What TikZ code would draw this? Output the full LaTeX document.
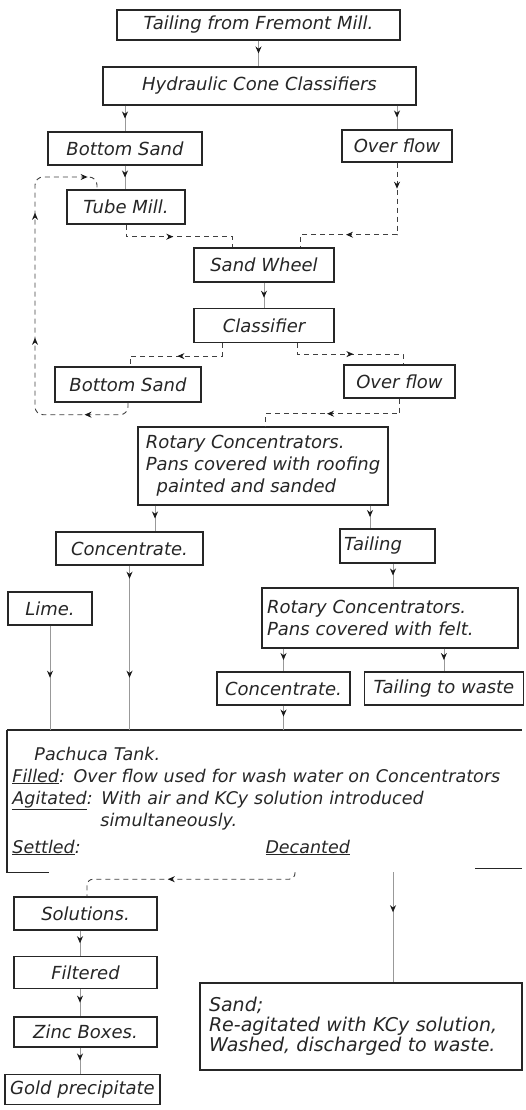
\documentclass[tikz,border=0pt]{standalone}
\usepackage{fontspec}
\setmainfont{DejaVu Sans}
\usetikzlibrary{arrows.meta, positioning, calc, decorations.markings}

\begin{document}
\begin{tikzpicture}[
  x=1pt, y=-1pt,
  >={Stealth[length=7pt, width=6pt]},
  box/.style={rectangle, draw=black!85, line width=1.4pt, fill=white, align=center, font=\fontsize{18}{22}\selectfont\itshape, text=black!85, inner sep=3pt},
  note/.style={rectangle, align=left, font=\fontsize{17.5}{22}\selectfont\itshape, text=black!85, inner sep=4pt},
  pachline/.style={draw=black!85, line width=1.4pt},
  link/.style={draw=black!40, line width=0.8pt},
  dlink/.style={draw=black!75, line width=0.9pt, dash pattern=on 5pt off 4pt},
  midtip/.style={postaction={decorate, decoration={markings, mark=at position #1 with {\arrow[black!90, solid]{>}}}}},
  midtip/.default=0.5
]
\useasboundingbox (0,0) rectangle (526,1110);

% Top section
\node[box, minimum width=283pt, minimum height=30pt] (tail) at (258.5,25) {Tailing from Fremont Mill.};
\node[box, minimum width=313pt, minimum height=38pt] (hcc) at (259.5,86) {Hydraulic Cone Classifiers};
\node[box, minimum width=154pt, minimum height=33pt] (bs1) at (125,148.5) {Bottom Sand};
\node[box, minimum width=110pt, minimum height=32pt] (of1) at (397,146) {Over flow};
\node[box, minimum width=118pt, minimum height=34pt] (tube) at (126,207) {Tube Mill.};

\draw[link, midtip] (tail.south) -- (tail.south |- hcc.north);
\draw[link, midtip] (hcc.south -| bs1) -- (bs1.north);
\draw[link, midtip] (hcc.south -| of1) -- (of1.north);
\draw[link, midtip] (bs1.south) -- (bs1.south |- tube.north);

% Sand wheel and classifier
\node[box, minimum width=140pt, minimum height=34pt] (sw) at (264,265) {Sand Wheel};
\node[box, minimum width=140pt, minimum height=34pt, below=25pt of sw] (clf) {Classifier};
\node[box, minimum width=146pt, minimum height=35pt] (bs2) at (128,384.5) {Bottom Sand};
\node[box, minimum width=111pt, minimum height=33pt] (of2) at (399.5,381.5) {Over flow};

\draw[dlink, midtip=0.46] (tube.south) -- ++(0,12) -| ([xshift=39pt]sw.north west);
\draw[dlink, midtip=26pt, midtip=123pt] (of1.south) -- ++(0,72) -| ([xshift=-34pt]sw.north east);
\draw[link, midtip=0.6] (sw.south) -- (clf.north);
\draw[dlink, midtip=0.5] ([xshift=-42pt]clf.south) -- ++(0,13) -| ([xshift=2pt]bs2.north);
\draw[dlink, midtip=0.53] ([xshift=33pt]clf.south) -- ++(0,11) -| ([xshift=3.5pt]of2.north);

% circulating load back to tube mill
\coordinate (ret) at (35,177);
\draw[dlink, rounded corners=8pt, midtip=52pt, midtip=175pt, midtip=300pt, midtip=385pt] (bs2.south) -- ++(0,12) -| (ret) -| ([xshift=-29pt]tube.north);

% Concentrators
\node[box, minimum width=250pt, minimum height=78pt, align=left] (rc1) at (263,466) {Rotary Concentrators.\\Pans covered with roofing\\\hspace*{0.6em}painted and sanded};
\node[box, minimum width=147pt, minimum height=33pt] (con1) at (129.5,548.5) {Concentrate.};
\node[box, minimum width=95pt, minimum height=34pt, text width=87pt, align=left] (tlg) at (387.5,546) {Tailing};
\node[box, minimum width=84pt, minimum height=33pt] (lime) at (50,608.5) {Lime.};
\node[box, minimum width=256pt, minimum height=60pt, text width=246pt, align=left] (rc2) at (390,618) {Rotary Concentrators.\\Pans covered with felt.};
\node[box, minimum width=133pt, minimum height=33pt] (con2) at (283.5,688.5) {Concentrate.};
\node[box, minimum width=159pt, minimum height=33pt, right=13pt of con2] (ttw) {Tailing to waste};

\draw[dlink, midtip=0.54] (of2.south) -- ++(0,15) -| ([xshift=2pt]rc1.north);
\draw[link, midtip] ([xshift=25.5pt]con1.north |- rc1.south) -- ([xshift=25.5pt]con1.north);
\draw[link, midtip] ([xshift=-17.5pt]tlg.north |- rc1.south) -- ([xshift=-17.5pt]tlg.north);
\draw[link, midtip] ([xshift=5.5pt]tlg.south) -- ([xshift=5.5pt]tlg.south |- rc2.north);
\draw[link, midtip] (con2.north |- rc2.south) -- (con2.north);
\draw[link, midtip] (ttw.north |- rc2.south) -- (ttw.north);

% Pachuca tank
\node[note, minimum width=515pt, minimum height=142pt, text width=504pt] (pach) at (264.5,801) {%
\hspace*{22pt}Pachuca Tank.\\
\underline{Filled}: Over flow used for wash water on Concentrators\\
\underline{Agitated}: With air and KCy solution introduced\\
\hspace*{88pt}simultaneously.\\[5pt]
\makebox[253pt][l]{\underline{Settled}:}\underline{Decanted}};
\draw[pachline] (pach.north west) -- (pach.north east);
\draw[pachline] (pach.north west) -- (pach.south west) -- ++(42,0);
\draw[pachline] ([yshift=4pt, xshift=-47pt]pach.south east) -- ++(47,0);

\draw[link, midtip=13pt, midtip=112pt] (con1.south) -- (con1.south |- pach.north);
\draw[link, midtip=52pt] (lime.south) -- (lime.south |- pach.north);
\draw[link, midtip=0.45] (con2.south) -- (con2.south |- pach.north);

% Solutions and sand
\node[box, minimum width=143pt, minimum height=33pt] (sol) at (85.5,913.5) {Solutions.};
\node[box, minimum width=143pt, minimum height=32pt, below=25pt of sol] (filt) {Filtered};
\node[box, minimum width=143pt, minimum height=30pt, below=27pt of filt] (zinc) {Zinc Boxes.};
\node[box, minimum width=155pt, minimum height=30pt, below=26pt of zinc, xshift=-3pt] (gold) {Gold precipitate};
\node[box, minimum width=322pt, minimum height=87pt, text width=304pt, align=left, font=\fontsize{19}{20}\selectfont\itshape] (sand) at (361,1026.5) {Sand;\\Re-agitated with KCy solution,\\Washed, discharged to waste.};

\draw[dlink, rounded corners=6pt, midtip=0.58] ([xshift=30.5pt]pach.south) -- ++(0,7) -| ([xshift=1.5pt]sol.north);
\draw[link, midtip=40pt] ([xshift=32pt]sand.north |- pach.south) -- ([xshift=32pt]sand.north);

\foreach \i/\j in {sol/filt, filt/zinc, zinc/gold} {
    \draw[link, midtip] ([xshift=-5.5pt]\i.south) -- ([xshift=-5.5pt]\i.south |- \j.north);
}

\end{tikzpicture}
\end{document}
